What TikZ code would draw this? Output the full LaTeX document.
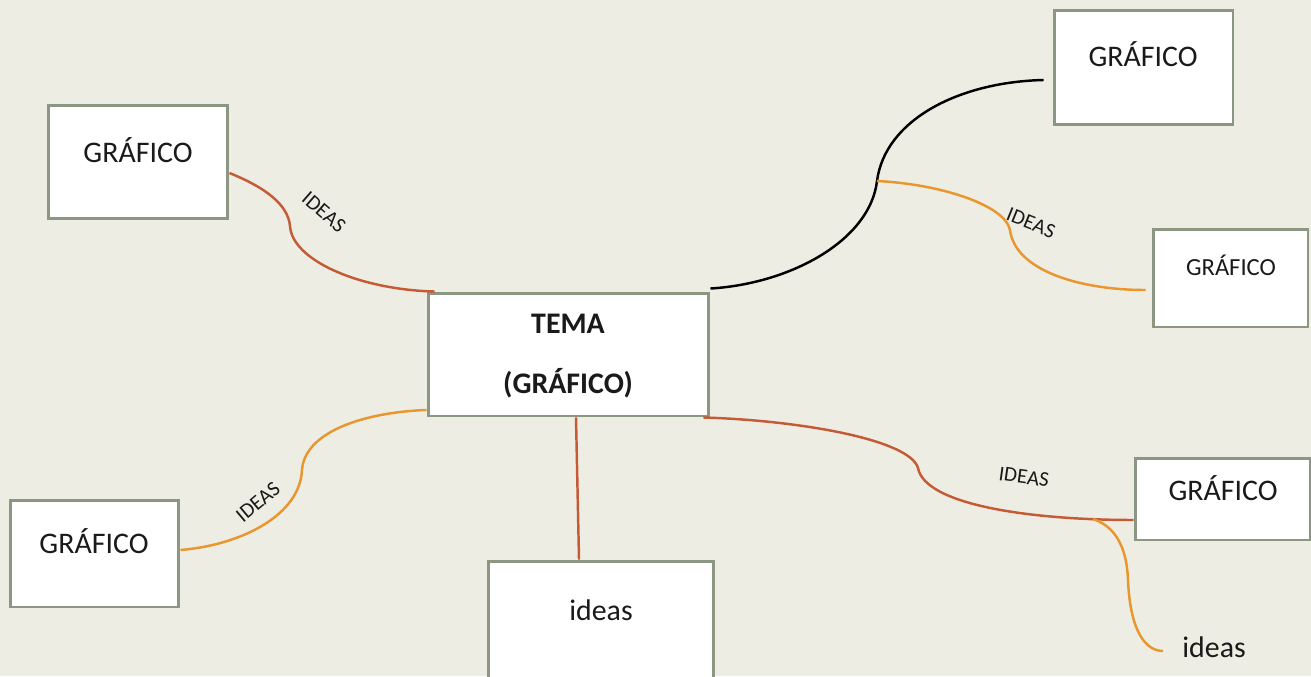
\documentclass[tikz,border=0pt]{standalone}
\usepackage{fontspec}
\setmainfont{Carlito}
\definecolor{MAPbg}{HTML}{EEEDE3}
\definecolor{MAPrust}{HTML}{C45B36}
\definecolor{MAPorange}{HTML}{E8962E}
\definecolor{MAPframe}{HTML}{8C9783}
\definecolor{MAPink}{HTML}{1A1A1A}
\usetikzlibrary{positioning}

\begin{document}
\begin{tikzpicture}[x=0.02cm, y=-0.02cm,
   gbox/.style={draw=MAPframe, line width=1.7pt, fill=white, inner sep=0pt},
   gtext/.style={font=\fontsize{17}{20}\selectfont, text=MAPink, anchor=base},
   tag/.style={font=\fontsize{12}{14}\selectfont, text=MAPink, inner sep=1pt},
   rust/.style={MAPrust, line width=1.4pt},
   amber/.style={MAPorange, line width=1.4pt}]
   % Background
   \fill[MAPbg] (0,0) rectangle (1311,676);
   \useasboundingbox (0,0) rectangle (1311,676);
   % Boxes
   \node[gbox, minimum width=5.62cm, minimum height=2.46cm] (tema) at (568.5,354.5) {};
   \node[gbox, minimum width=3.6cm, minimum height=2.28cm] (tl) at (138,162) {};
   \node[gbox, minimum width=3.58cm, minimum height=2.3cm] (tr) at (1143.5,67.5) {};
   \node[gbox, minimum width=3.1cm, minimum height=1.96cm] (r) at (1230.5,278) {};
   \node[gbox, minimum width=3.5cm, minimum height=1.64cm] (rl) at (1222.5,499) {};
   \node[gbox, minimum width=3.38cm, minimum height=2.14cm] (ll) at (94.5,553.5) {};
   \node[gbox, minimum width=4.52cm, minimum height=2.8cm] (bot) at (601,631) {};
   % Box texts
   \node[gtext, font=\fontsize{17}{20}\selectfont\bfseries] (temaA) at (568,333) {TEMA};
   \node[gtext, font=\fontsize{17}{20}\selectfont\bfseries] (temaB) at (568,393) {(GRÁFICO)};
   \node[gtext] (tlA) at (138,162) {GRÁFICO};
   \node[gtext] (trA) at (1143,66) {GRÁFICO};
   \node[gtext, font=\fontsize{14}{17}\selectfont] (rA) at (1231,275) {GRÁFICO};
   \node[gtext] (rlA) at (1223,500) {GRÁFICO};
   \node[gtext] (llA) at (94,553) {GRÁFICO};
   \node[gtext] (botA) at (601,620) {ideas};
   \node[gtext, anchor=base west, inner sep=0pt] (free) at (1182,657) {ideas};
   % Top-left branch
   \coordinate (tlk) at (290,226);
   \draw[rust] ([yshift=-0.22cm]tl.east) .. controls +(37,15) and +(-2,-21) .. (tlk)
      .. controls +(2,34) and +(-76,-2) .. ([xshift=0.16cm]tema.north west);
   \node[tag, rotate=-41] (ideasA) at (324,212) {IDEAS};
   % Top-right branch
   \coordinate (trk) at (877,181);
   \draw[black, line width=1.4pt] ([yshift=0.06cm]tema.north east) .. controls +(81,-5) and +(-7,59) .. (trk)
      .. controls +(8,-61) and +(-85,2) .. ([xshift=-0.18cm,yshift=-0.25cm]tr.west);
   % Right branch
   \coordinate (rk) at (1010,230);
   \draw[amber] (trk) .. controls +(63,3) and +(-5,-25) .. (rk)
      .. controls +(5,40) and +(-67,0) .. ([xshift=-0.12cm,yshift=-0.24cm]r.west);
   \node[tag, rotate=-22] (ideasB) at (1031,223) {IDEAS};
   % Lower-left branch
   \coordinate (llk) at (302,470);
   \draw[amber] ([yshift=-1.11cm]tema.west) .. controls +(-58,2) and +(3,-40) .. (llk)
      .. controls +(-2,45) and +(61,-5) .. ([yshift=0.07cm]ll.east);
   \node[tag, rotate=40] (ideasC) at (258,502) {IDEAS};
   % Bottom branch
   \draw[rust] ([xshift=0.15cm]tema.south) -- ([xshift=-0.44cm]bot.north);
   % Lower-right branch
   \coordinate (rlk) at (918,468);
   \draw[rust] ([xshift=-0.14cm]tema.south east) .. controls +(98,3) and +(-8,-28) .. (rlk)
      .. controls +(7,37) and +(-103,0) .. ([yshift=-0.42cm]rl.west);
   \node[tag, rotate=-8] (ideasD) at (1024,477) {IDEAS};
   % Sub-branch to free text
   \coordinate (rlj) at (1093,519);
   \coordinate (rls) at (1128,580);
   \draw[amber] (rlj) .. controls +(27,9) and +(-1,-25) .. (rls)
      .. controls +(2,50) and +(-18,0) .. ([xshift=-0.38cm,yshift=0.12cm]free.base west);
\end{tikzpicture}
\end{document}
